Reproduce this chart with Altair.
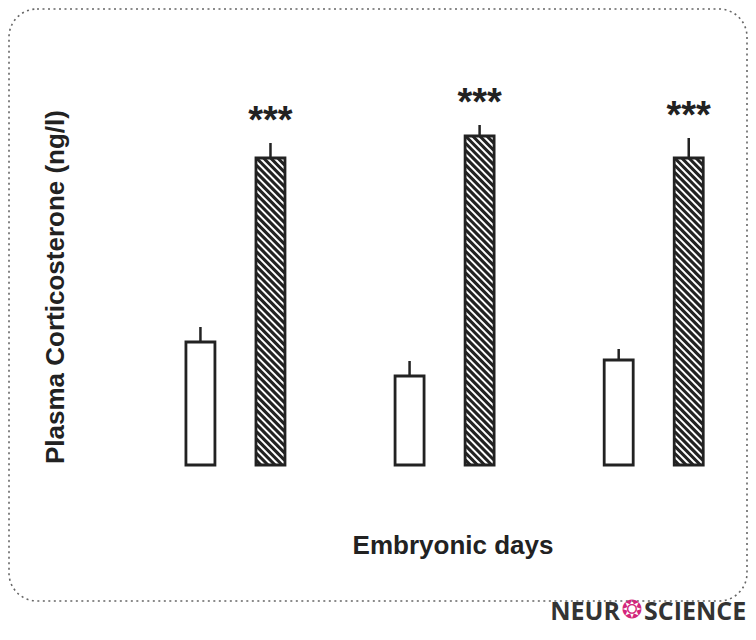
import altair as alt
import pandas as pd

# ---- data (arbitrary units, no tick labels in the original) ----
groups = [1, 2, 3]                      # three embryonic-day groups
control_mean = [12.3, 8.9, 10.5]
control_err = [1.5, 1.5, 1.1]
stress_mean = [30.7, 32.9, 30.7]
stress_err = [1.5, 1.1, 2.0]
significance = ["***", "***", "***"]
y_title = "Plasma Corticosterone (ng/l)"
x_title = "Embryonic days"
logo_left = ["NEUR"]
logo_mark = ["❂"]
logo_right = ["SCIENCE"]

# ---- layout ----
W, H = 738, 592
PX_PER_X = 212.0      # pixels per group step
PX_PER_Y = 10.0       # pixels per unit
x0 = 1 - 224.5 / PX_PER_X
x_dom = [x0, x0 + W / PX_PER_X]
y_dom = [-13.6, 45.6]
offset = 35.5 / PX_PER_X
BAR_PX = 29
HATCH_STEP = 7.2
INK = "#222222"
FONT = "Liberation Sans"

rows = []
for g, cm, ce, sm, se, s in zip(groups, control_mean, control_err, stress_mean, stress_err, significance):
    rows.append(dict(x=g - offset, mean=cm, top=cm + ce, cond="control", sig=""))
    rows.append(dict(x=g + offset, mean=sm, top=sm + se, cond="stress", sig=s))
df = pd.DataFrame(rows)
stress_df = df[df.cond == "stress"]

# diagonal hatch segments clipped to each stressed bar
hatch = []
for _, r in stress_df.iterrows():
    w = float(BAR_PX)
    hp = r["mean"] * PX_PER_Y
    left = r["x"] - w / 2 / PX_PER_X
    c = -w
    while c < hp:
        u1 = max(0.0, -c)
        u2 = min(w, hp - c)
        if u2 > u1:
            hatch.append(dict(hx=left + u1 / PX_PER_X, hy=r["mean"] - (u1 + c) / PX_PER_Y,
                              hx2=left + u2 / PX_PER_X, hy2=r["mean"] - (u2 + c) / PX_PER_Y))
        c += HATCH_STEP
hatch_df = pd.DataFrame(hatch)

xs = alt.Scale(domain=x_dom, nice=False, zero=False)
ys = alt.Scale(domain=y_dom, nice=False, zero=False)
xaxis = alt.Axis(title=x_title, domain=False, ticks=False, labels=False, grid=False,
                 titleFont=FONT, titleFontSize=26, titleFontWeight="bold", titleColor=INK,
                 titleX=443.5, titleY=-48, titleAlign="center", titleBaseline="alphabetic")
yaxis = alt.Axis(title=y_title, domain=False, ticks=False, labels=False, grid=False,
                 titleFont=FONT, titleFontSize=26, titleFontWeight="bold", titleColor=INK,
                 titleX=54, titleY=277.5, titleAngle=270, titleAlign="center",
                 titleBaseline="alphabetic")


def X(f):
    return alt.X(f, type="quantitative", scale=xs, axis=xaxis)


def Y(f):
    return alt.Y(f, type="quantitative", scale=ys, axis=yaxis)


base = alt.Chart(df)

errbars = base.mark_rule(color=INK, strokeWidth=2.5).encode(
    x=X("x"), y=Y("mean"), y2="top:Q"
)
fill_bars = base.mark_bar(size=BAR_PX, fill="white", strokeWidth=0, orient="vertical").encode(
    x=X("x"), y=Y("mean"), y2=alt.datum(0)
)
hatch_lines = alt.Chart(hatch_df).mark_rule(color=INK, strokeWidth=3.1, strokeCap="butt").encode(
    x=X("hx"), y=Y("hy"), x2="hx2:Q", y2="hy2:Q"
)
outline = base.mark_bar(size=BAR_PX, fillOpacity=0, fill="white", stroke=INK,
                        strokeWidth=2.8, orient="vertical").encode(
    x=X("x"), y=Y("mean"), y2=alt.datum(0)
)
stars = alt.Chart(stress_df).mark_text(font=FONT, fontSize=38, fontWeight="bold", color=INK,
                                      baseline="alphabetic", dy=-10).encode(
    x=X("x"), y=Y("top"), text="sig:N"
)

logo_font = "Open Sans"
logo1 = alt.Chart(pd.DataFrame({"t": logo_left})).mark_text(
    font=logo_font, fontSize=25, fontWeight="bold", color="#333333", align="right",
    baseline="alphabetic").encode(x=alt.value(611), y=alt.value(611), text="t:N")
logo2 = alt.Chart(pd.DataFrame({"t": logo_mark})).mark_text(
    font="DejaVu Sans", fontSize=25, fontWeight="bold", color="#d3267b", align="center",
    baseline="alphabetic").encode(x=alt.value(623), y=alt.value(609), text="t:N")
logo3 = alt.Chart(pd.DataFrame({"t": logo_right})).mark_text(
    font=logo_font, fontSize=25, fontWeight="bold", color="#333333", align="left",
    baseline="alphabetic").encode(x=alt.value(635), y=alt.value(611), text="t:N")

chart = alt.layer(errbars, fill_bars, hatch_lines, outline, stars, logo1, logo2, logo3).properties(
    width=W, height=H,
    autosize=alt.AutoSizeParams(type="none"),
    padding={"left": 1, "top": 1, "right": 1, "bottom": 27},
    background="white",
).configure_view(
    stroke="#666666", strokeDash=[2, 3.5], strokeWidth=1.6, cornerRadius=28
)

chart.save("out.html", embed_options={"renderer": "svg", "actions": False})
